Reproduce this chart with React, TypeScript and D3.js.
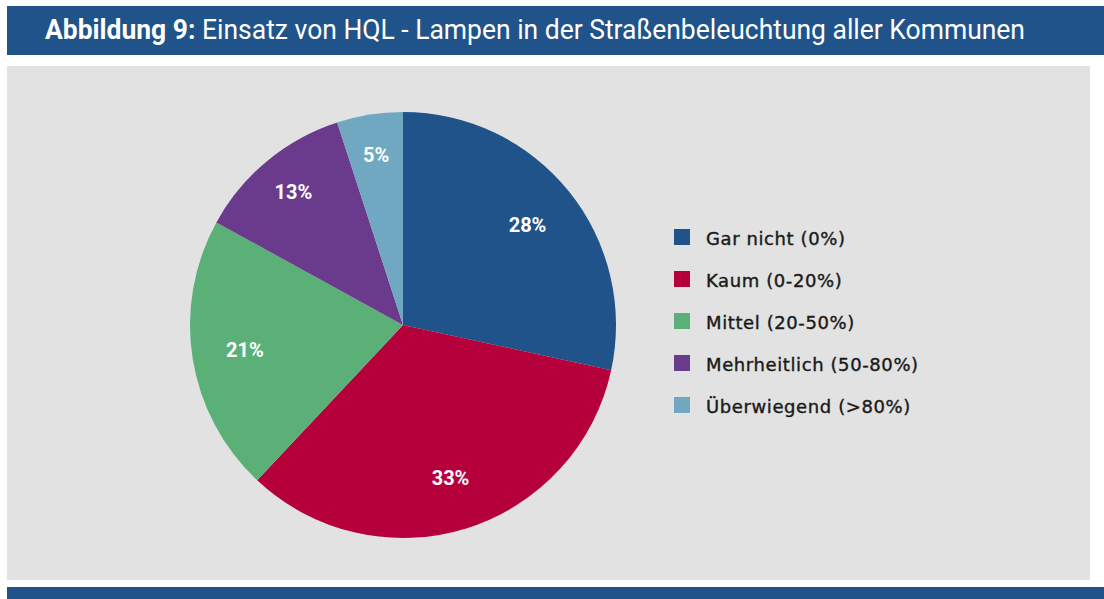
import * as d3 from "d3";

const categories = ["Gar nicht (0%)", "Kaum (0-20%)", "Mittel (20-50%)", "Mehrheitlich (50-80%)", "Überwiegend (>80%)"];
const values = [28.4, 33.6, 21.0, 12.0, 5.0];
const valueLabels = ["28%", "33%", "21%", "13%", "5%"];
const colors = ["#1f538a", "#b5003c", "#5ab077", "#6a3a8c", "#6fa8c0"];

export default function App() {
  const width = 1104;
  const height = 599;
  const cx = 403;
  const cy = 325;
  const r = 213;

  const pie = d3.pie<number>().sort(null).value((d) => d);
  const arcs = pie(values);
  const arc = d3.arc<d3.PieArcDatum<number>>().innerRadius(0).outerRadius(r);
  // smaller slices get their labels pushed a bit further out, like the original
  const labelRadius = (a: d3.PieArcDatum<number>) => (a.endAngle - a.startAngle < 1 ? 172 : 160);

  const legendY = d3.scaleBand<string>().domain(categories).range([216, 426]);

  return (
    <div style={{ position: "absolute", left: 0, top: 0 }}>
      <svg width={width} height={height} style={{ display: "block" }}>
        <rect width={width} height={height} fill="#ffffff" />
        <rect x={7} y={6} width={width - 7} height={49} fill="#1f5389" />
        <text
          x={45}
          y={39}
          fill="#ffffff"
          fontFamily="Roboto, sans-serif"
          fontSize={28}
          textLength={980}
          lengthAdjust="spacingAndGlyphs"
        >
          <tspan fontWeight="bold">Abbildung 9:</tspan>
          <tspan> Einsatz von HQL - Lampen in der Straßenbeleuchtung aller Kommunen</tspan>
        </text>
        <rect x={7} y={66} width={1083} height={514} fill="#e2e2e2" />
        <rect x={7} y={587} width={width - 7} height={12} fill="#1f5389" />

        <g transform={`translate(${cx},${cy})`}>
          {arcs.map((a, i) => (
            <path key={categories[i]} d={arc(a) ?? ""} fill={colors[i]} />
          ))}
          {arcs.map((a, i) => {
            const lr = labelRadius(a);
            const [x, y] = d3.arc<d3.PieArcDatum<number>>().innerRadius(lr).outerRadius(lr).centroid(a);
            return (
              <text
                key={`l-${i}`}
                x={x}
                y={y}
                textAnchor="middle"
                dominantBaseline="central"
                fill="#ffffff"
                fontFamily="Roboto, sans-serif"
                fontWeight="bold"
                fontSize={20}
              >
                {valueLabels[i]}
              </text>
            );
          })}
        </g>

        {categories.map((c, i) => {
          const y = (legendY(c) ?? 0) + legendY.bandwidth() / 2;
          return (
            <g key={`lg-${c}`} transform={`translate(674,${y})`}>
              <rect x={0} y={-8} width={16} height={16} fill={colors[i]} />
              <text
                x={32}
                y={1}
                dominantBaseline="central"
                fill="#1a1a1a"
                stroke="#1a1a1a"
                strokeWidth={0.4}
                fontFamily="'DejaVu Sans', sans-serif"
                fontSize={18}
                letterSpacing={0.6}
              >
                {c}
              </text>
            </g>
          );
        })}
      </svg>
    </div>
  );
}
